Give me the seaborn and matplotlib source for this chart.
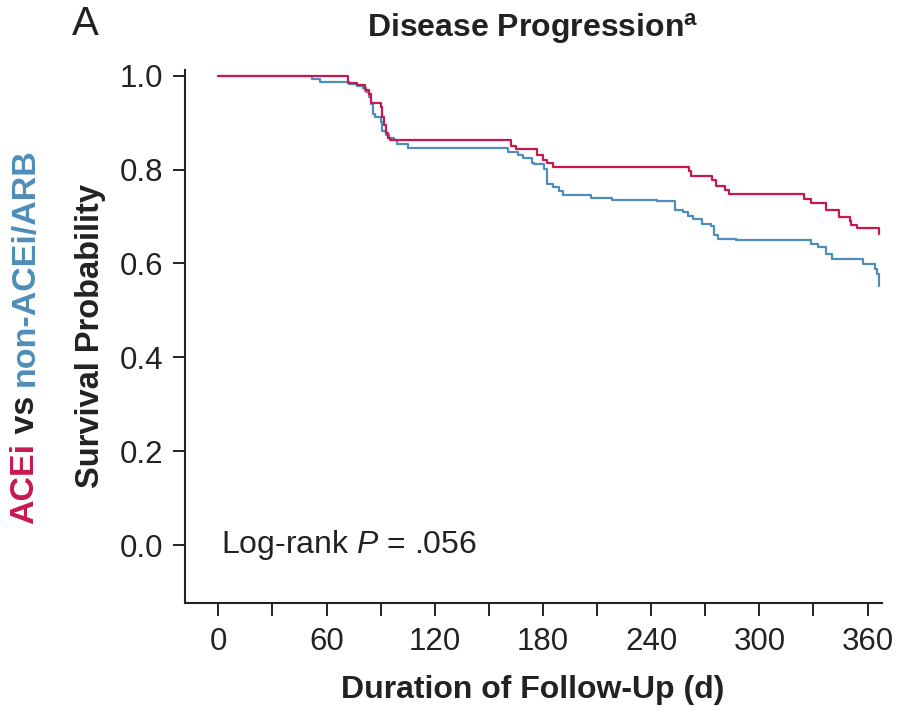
import matplotlib
matplotlib.use("Agg")
import matplotlib.pyplot as plt
import seaborn as sns
import pandas as pd
import numpy as np

# ---------------- data ----------------
acei_t = [0, 72, 77, 81.5, 83.5, 84.5, 90, 91, 92, 93,
          94, 95, 162, 165, 176.5, 180, 182.5, 185.5, 261, 262,
          274, 276, 281, 283, 325, 328.5, 337, 344, 350, 351,
          354, 366.5]
acei_s = [1.0, 0.984, 0.979, 0.970, 0.961, 0.941, 0.933, 0.911, 0.894, 0.877,
          0.867, 0.862, 0.850, 0.843, 0.830, 0.821, 0.814, 0.805, 0.796, 0.786,
          0.777, 0.766, 0.757, 0.748, 0.738, 0.728, 0.713, 0.700, 0.690, 0.681,
          0.676, 0.663]

non_t = [0, 52, 56.5, 72.5, 77, 80, 82, 83.5, 84.5, 85.5,
         87, 90, 91, 93, 94.5, 97.5, 99, 105, 160.5, 166,
         169, 174, 175, 180.5, 182.5, 185.5, 189, 191, 206.5, 218.5,
         243.5, 253, 257.5, 260.5, 263, 268, 273, 275, 277, 287,
         328.5, 332.5, 337, 340.5, 357.5, 364, 365.5, 366.5]
non_s = [1.0, 0.993, 0.986, 0.982, 0.978, 0.974, 0.965, 0.954, 0.940, 0.919,
         0.911, 0.901, 0.883, 0.874, 0.867, 0.863, 0.855, 0.845, 0.838, 0.831,
         0.825, 0.815, 0.811, 0.802, 0.770, 0.763, 0.755, 0.745, 0.740, 0.736,
         0.732, 0.714, 0.709, 0.702, 0.695, 0.684, 0.679, 0.660, 0.652, 0.649,
         0.642, 0.636, 0.621, 0.610, 0.599, 0.589, 0.578, 0.552]

groups = ["ACEi", "non-ACEi/ARB"]
x_ticks = [0, 60, 120, 180, 240, 300, 360]
x_minor = [30, 90, 150, 210, 270, 330]
y_ticks = [0.0, 0.2, 0.4, 0.6, 0.8, 1.0]
y_tick_labels = ["0.0", "0.2", "0.4", "0.6", "0.8", "1.0"]

RED = "#C8194F"
BLUE = "#4F8EBA"
INK = "#222222"

df = pd.concat([
    pd.DataFrame({"t": acei_t, "s": acei_s, "g": groups[0]}),
    pd.DataFrame({"t": non_t, "s": non_s, "g": groups[1]}),
], ignore_index=True)

# ---------------- style ----------------
sns.set_style("ticks")
plt.rcParams["font.family"] = ["Liberation Sans", "DejaVu Sans"]
plt.rcParams["mathtext.fontset"] = "custom"
plt.rcParams["mathtext.rm"] = "Liberation Sans"
plt.rcParams["mathtext.it"] = "Liberation Sans:italic"
plt.rcParams["mathtext.bf"] = "Liberation Sans:bold"

fig = plt.figure(figsize=(8.97, 7.11), dpi=100)
ax = fig.add_axes([185 / 897, 108 / 711, (882 - 185) / 897, (641 - 108) / 711])

sns.lineplot(data=df, x="t", y="s", hue="g", hue_order=groups,
             palette=[RED, BLUE], drawstyle="steps-post", estimator=None,
             linewidth=1.6, legend=False, ax=ax)
for ln in ax.get_lines():
    if matplotlib.colors.to_hex(ln.get_color()).lower() == RED.lower():
        ln.set_zorder(3)

ax.set_xlim(-18.5, 368)
ax.set_ylim(-0.123, 1.012)
ax.set_xticks(x_ticks)
ax.set_xticks(x_minor, minor=True)
ax.set_yticks(y_ticks)
ax.set_yticklabels(y_tick_labels)
ax.set_xlabel("")
ax.set_ylabel("")

for s in ["top", "right"]:
    ax.spines[s].set_visible(False)
for s in ["left", "bottom"]:
    ax.spines[s].set_linewidth(1.5)
    ax.spines[s].set_color(INK)

ax.tick_params(axis="x", which="both", direction="out", length=9, width=1.4,
               color=INK, labelsize=22.5, pad=8, labelcolor=INK)
ax.tick_params(axis="y", which="major", direction="out", length=8.5, width=1.4,
               color=INK, labelsize=22.5, pad=7, labelcolor=INK)

ax.text(1.5, 0.0, r"Log-rank $\mathit{P}$ = .056", fontsize=23, va="center",
        ha="left", color=INK)

# axis labels
fig.text(533 / 897, 1 - 690 / 711, "Duration of Follow-Up (d)", ha="center",
         va="center", fontsize=23, fontweight="bold", color=INK)
fig.text(90 / 897, 1 - 336 / 711, "Survival Probability", ha="center",
         va="center", rotation=90, fontsize=23.5, fontweight="bold", color=INK)

# title and panel letter
fig.text(533 / 897, 1 - 29 / 711, r"Disease Progression$^{\mathbf{a}}$", ha="center",
         va="center", fontsize=23, fontweight="bold", color=INK)
fig.text(85 / 897, 1 - 24 / 711, "A", ha="center", va="center", fontsize=29,
         color=INK)

# multi-coloured rotated group label
fig.canvas.draw()
renderer = fig.canvas.get_renderer()
pieces = [("ACEi", RED), (" vs ", INK), ("non-ACEi/ARB", BLUE)]
GFS = 24.5
lengths = []
for txt, col in pieces:
    t = fig.text(0, 0, txt, rotation=90, fontsize=GFS, fontweight="bold")
    bb = t.get_window_extent(renderer)
    lengths.append(bb.height)
    t.remove()
total = sum(lengths)
center_px = 711 - 336
ypos = center_px - total / 2
for (txt, col), L in zip(pieces, lengths):
    fig.text(25 / 897, ypos / 711, txt, rotation=90, fontsize=GFS,
             fontweight="bold", color=col, ha="center", va="bottom")
    ypos += L

fig.savefig("out.png", dpi=100)
